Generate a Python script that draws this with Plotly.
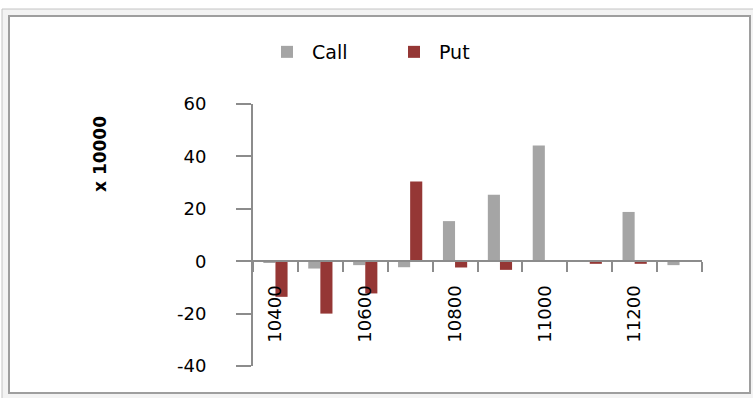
import plotly.graph_objects as go

# Option strike prices and net open-interest change (in units of 10000)
strikes = [10400, 10500, 10600, 10700, 10800, 10900, 11000, 11100, 11200, 11300]
call_values = [-0.6, -2.8, -1.5, -2.3, 15.3, 25.4, 44.2, 0, 18.8, -1.5]
put_values = [-13.6, -20.0, -12.3, 30.4, -2.4, -3.3, 0, -1.0, -1.0, 0]
label_strikes = [10400, 10600, 10800, 11000, 11200]
y_ticks = [-40, -20, 0, 20, 40, 60]
y_tick_text = ["-40", "-20", "0", "20", "40", "60"]

W, H = 753, 398
L, R, T, B = 253, 51, 104, 32
PW, PH = W - L - R, H - T - B


def px(x):
    return (x - L) / PW


def py(y):
    return (H - B - y) / PH


FONT = "DejaVu Sans"
AXIS_GREY = "#8c8c8c"

fig = go.Figure()
fig.add_trace(go.Bar(x=strikes, y=call_values, name="Call",
                     marker=dict(color="#a5a5a5", line=dict(width=0))))
fig.add_trace(go.Bar(x=strikes, y=put_values, name="Put",
                     marker=dict(color="#953735", line=dict(width=0))))

step = strikes[1] - strikes[0]
boundaries = [s - step / 2 for s in strikes] + [strikes[-1] + step / 2]

fig.update_layout(
    width=W, height=H,
    margin=dict(l=L, r=R, t=T, b=B, pad=0),
    paper_bgcolor="white",
    plot_bgcolor="rgba(0,0,0,0)",
    barmode="group",
    bargap=0.46,
    bargroupgap=0,
    font=dict(family=FONT, color="#000000"),
    showlegend=True,
    legend=dict(orientation="h", x=px(262), xanchor="left",
                y=py(52), yanchor="middle",
                font=dict(family=FONT, size=19, color="#000000"),
                bgcolor="rgba(0,0,0,0)", itemwidth=40,
                entrywidth=72, entrywidthmode="pixels",
                traceorder="normal"),
    xaxis=dict(
        range=[boundaries[0], boundaries[-1]],
        anchor="free", position=0.4,
        tickmode="array", tickvals=label_strikes,
        ticktext=[str(s) for s in label_strikes],
        tickangle=-90, ticks="", ticklabelstandoff=16,
        tickfont=dict(family=FONT, size=18, color="#000000"),
        showline=True, linecolor=AXIS_GREY, linewidth=2,
        showgrid=False, zeroline=False,
        minor=dict(tickmode="array", tickvals=boundaries, ticks="outside",
                   ticklen=10, tickwidth=2, tickcolor=AXIS_GREY,
                   showgrid=False),
    ),
    yaxis=dict(
        range=[-40, 60],
        tickmode="array", tickvals=y_ticks, ticktext=y_tick_text,
        ticks="outside", ticklen=15, tickwidth=2, tickcolor=AXIS_GREY,
        ticklabelstandoff=26,
        tickfont=dict(family=FONT, size=18, color="#000000"),
        showline=True, linecolor=AXIS_GREY, linewidth=2,
        showgrid=False, zeroline=False,
    ),
    shapes=[
        dict(type="rect", xref="paper", yref="paper", layer="below",
             x0=px(2), x1=px(762), y0=py(406), y1=py(9),
             fillcolor="#f3f3f3", line=dict(color="#c4c4c4", width=1)),
        dict(type="rect", xref="paper", yref="paper", layer="below",
             x0=px(9), x1=px(750), y0=py(393), y1=py(16),
             fillcolor="white", line=dict(color="#9e9e9e", width=2)),
    ],
    annotations=[
        dict(text="<b>x 10000</b>", xref="paper", yref="paper",
             x=px(100), y=py(154), xanchor="center", yanchor="middle",
             textangle=-90, showarrow=False,
             font=dict(family=FONT, size=17, color="#000000")),
    ],
)

fig.write_html("out.html")
